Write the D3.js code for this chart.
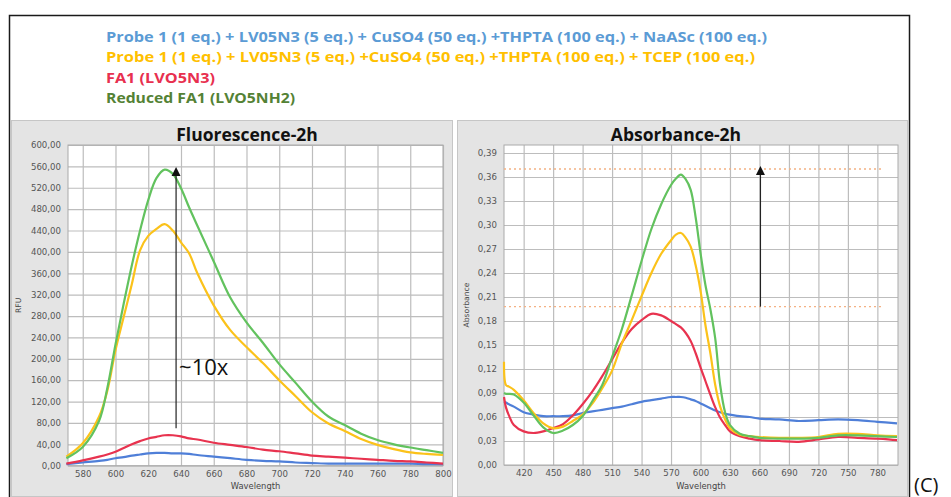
<!DOCTYPE html>
<html>
<head>
<meta charset="utf-8">
<script src="https://cdn.jsdelivr.net/npm/d3@7"></script>
<style>
  body { margin: 0; background: #fff; }
  svg { display: block; }
</style>
</head>
<body>
<svg id="chart" width="951" height="497"></svg>
<script>
// Fluorescence / absorbance spectra after 2h, four conditions

// ---- data ----
const legendLabels = [
	"Probe 1 (1 eq.) + LV05N3 (5 eq.) + CuSO4 (50 eq.) +THPTA (100 eq.) + NaASc (100 eq.)",
	"Probe 1 (1 eq.) + LV05N3 (5 eq.) +CuSO4 (50 eq.) +THPTA (100 eq.) +  TCEP (100 eq.)",
	"FA1 (LVO5N3)",
	"Reduced FA1 (LVO5NH2)"
];

const fluoWl = [570, 580, 590, 595, 600, 605, 610, 615, 620, 625, 630, 635, 640, 645, 650,
	660, 670, 680, 690, 700, 710, 720, 730, 740, 750, 760, 770, 780, 790, 800];
const fluoBlue = [3, 6, 9, 11, 14, 16, 19, 21, 23, 24, 24, 23, 23, 22, 20,
	17, 14, 11, 9, 8, 6, 5, 4, 4, 4, 4, 4, 4, 3, 3];
const fluoYellow = [17, 42, 92, 140, 216, 278, 340, 403, 430, 443, 452, 440, 418, 397, 360,
	300, 254, 222, 192, 160, 130, 100, 79, 65, 50, 39, 31, 25, 22, 20];
const fluoRed = [4, 10, 17, 21, 26, 33, 40, 46, 51, 54, 57, 57, 55, 51, 49,
	43, 39, 35, 30, 27, 23, 19, 17, 15, 13, 11, 9, 8, 6, 4];
const fluoGreen = [14, 35, 84, 145, 227, 303, 375, 440, 497, 538, 554, 546, 519, 483, 449,
	382, 315, 268, 230, 190, 155, 120, 92, 76, 60, 48, 40, 34, 29, 24];

const absWl = [400, 402, 405, 410, 420, 430, 440, 450, 460, 470, 480, 490, 500, 510, 520, 530,
	540, 550, 560, 570, 575, 580, 585, 590, 595, 600, 605, 610, 615, 620, 625, 630,
	640, 650, 660, 680, 700, 720, 740, 760, 780, 800];
const absBlue = [0.079, 0.078, 0.076, 0.073, 0.066, 0.063, 0.061, 0.061, 0.061, 0.062, 0.065, 0.067, 0.069, 0.071, 0.073, 0.076,
	0.079, 0.081, 0.083, 0.085, 0.085, 0.085, 0.084, 0.082, 0.080, 0.077, 0.074, 0.071, 0.068, 0.066, 0.064, 0.063,
	0.061, 0.060, 0.058, 0.057, 0.055, 0.056, 0.057, 0.056, 0.054, 0.052];
const absYellow = [0.129, 0.100, 0.098, 0.094, 0.081, 0.065, 0.052, 0.046, 0.048, 0.055, 0.063, 0.077, 0.096, 0.118, 0.152, 0.181,
	0.211, 0.240, 0.264, 0.281, 0.288, 0.290, 0.284, 0.273, 0.250, 0.218, 0.175, 0.140, 0.100, 0.073, 0.057, 0.046,
	0.038, 0.036, 0.035, 0.034, 0.034, 0.035, 0.039, 0.039, 0.037, 0.036];
const absRed = [0.085, 0.072, 0.062, 0.050, 0.042, 0.040, 0.042, 0.046, 0.051, 0.062, 0.076, 0.092, 0.111, 0.132, 0.153, 0.170,
	0.181, 0.189, 0.187, 0.180, 0.176, 0.172, 0.165, 0.155, 0.140, 0.122, 0.105, 0.088, 0.072, 0.059, 0.050, 0.042,
	0.036, 0.033, 0.031, 0.030, 0.029, 0.032, 0.035, 0.034, 0.033, 0.031];
const absGreen = [0.090, 0.089, 0.089, 0.088, 0.078, 0.062, 0.047, 0.040, 0.043, 0.050, 0.061, 0.080, 0.100, 0.135, 0.170, 0.212,
	0.255, 0.295, 0.326, 0.350, 0.358, 0.363, 0.357, 0.344, 0.310, 0.265, 0.225, 0.195, 0.158, 0.100, 0.066, 0.050,
	0.039, 0.036, 0.034, 0.033, 0.033, 0.034, 0.037, 0.037, 0.036, 0.035];

const fluoYTicks = d3.range(0, 601, 40);
const fluoXTicks = d3.range(580, 801, 20);
const absYTicks = d3.range(14).map(i => +(i * 0.03).toFixed(2));
const absXTicks = d3.range(420, 781, 30);

// dotted guide levels and the "increase" arrows (data units)
const absGuides = [0.37, 0.198];
const fluoArrow = { wl: 637, from: 70, to: 553 };
const absArrow = { wl: 661, from: 0.198, to: 0.37 };

// ---- styles ----
const legendColors = ["#5b9bd5", "#ffc000", "#e8304f", "#548235"];
const lineColors = ["#4f7fd8", "#fbc21a", "#e8334f", "#62c25e"];
const drawOrder = [0, 2, 1, 3];

const svg = d3.select("#chart");

// legend box
svg.append("rect")
	.attr("x", 9.5).attr("y", 15.5)
	.attr("width", 900).attr("height", 500)
	.attr("fill", "#fff")
	.attr("stroke", "#1a1a1a")
	.attr("stroke-width", 1.5);

const legendWidths = [661, 649, 109, 189];
svg.selectAll(".legend")
	.data(legendLabels)
	.enter().append("text")
	.attr("class", "legend")
	.attr("x", 106)
	.attr("y", (d, i) => 42 + i * 20.3)
	.attr("fill", (d, i) => legendColors[i])
	.attr("font-family", "Open Sans, sans-serif")
	.attr("font-weight", "bold")
	.attr("font-size", 15)
	.attr("textLength", (d, i) => legendWidths[i])
	.attr("lengthAdjust", "spacingAndGlyphs")
	.text(d => d);

// one panel = gray card + plot + grid + curves
function drawPanel(cfg) {
	const g = svg.append("g");

	g.append("rect")
		.attr("x", cfg.box[0] + 0.5).attr("y", cfg.box[1] + 0.5)
		.attr("width", cfg.box[2]).attr("height", cfg.box[3])
		.attr("fill", "#e4e4e4")
		.attr("stroke", "#c6c6c6");

	const x = d3.scaleLinear().domain(cfg.xDomain).range([cfg.plot[0], cfg.plot[1]]);
	const y = d3.scaleLinear().domain(cfg.yDomain).range([cfg.plot[3], cfg.plot[2]]);

	g.append("rect")
		.attr("x", cfg.plot[0]).attr("y", cfg.plot[2])
		.attr("width", cfg.plot[1] - cfg.plot[0])
		.attr("height", cfg.plot[3] - cfg.plot[2])
		.attr("fill", "#fff");

	// horizontal grid + y labels
	const yAxis = g.append("g")
		.attr("transform", "translate(" + cfg.plot[0] + ",0)")
		.call(d3.axisLeft(y)
			.tickValues(cfg.yTicks)
			.tickSize(-(cfg.plot[1] - cfg.plot[0]))
			.tickPadding(7)
			.tickFormat(d => d3.format(cfg.yFormat)(d).replace(".", ",")));

	// vertical grid + x labels
	const xAxis = g.append("g")
		.attr("transform", "translate(0," + cfg.plot[3] + ")")
		.call(d3.axisBottom(x)
			.tickValues(cfg.xTicks)
			.tickSize(-(cfg.plot[3] - cfg.plot[2]))
			.tickPadding(5));

	[yAxis, xAxis].forEach(a => {
		a.select(".domain").remove();
		a.selectAll(".tick line").attr("stroke", "#bdbdbd").attr("stroke-width", 1.2);
		a.selectAll(".tick text")
			.attr("fill", "#555")
			.attr("font-family", "DejaVu Sans, sans-serif")
			.attr("font-size", 8.6);
	});

	g.append("rect")
		.attr("x", cfg.plot[0]).attr("y", cfg.plot[2])
		.attr("width", cfg.plot[1] - cfg.plot[0])
		.attr("height", cfg.plot[3] - cfg.plot[2])
		.attr("fill", "none")
		.attr("stroke", "#aaa");

	// dotted guides
	(cfg.guides || []).forEach(v => {
		g.append("line")
			.attr("x1", x(cfg.xDomain[0])).attr("x2", x(cfg.guideEnd))
			.attr("y1", y(v)).attr("y2", y(v))
			.attr("stroke", "#f4b183")
			.attr("stroke-width", 1.3)
			.attr("stroke-dasharray", "2,3");
	});

	// curves
	const line = d3.line()
		.x(d => x(d[0]))
		.y(d => y(d[1]))
		.curve(d3.curveCatmullRom.alpha(0.5));

	drawOrder.forEach(i => {
		g.append("path")
			.datum(cfg.wl.map((w, k) => [w, cfg.series[i][k]]))
			.attr("fill", "none")
			.attr("stroke", lineColors[i])
			.attr("stroke-width", 2.2)
			.attr("stroke-linejoin", "round")
			.attr("d", line);
	});

	// arrow
	const ax = x(cfg.arrow.wl), yTop = y(cfg.arrow.to);
	g.append("line")
		.attr("x1", ax).attr("x2", ax)
		.attr("y1", y(cfg.arrow.from)).attr("y2", yTop + 4)
		.attr("stroke", "#222")
		.attr("stroke-width", 1.2);
	g.append("path")
		.attr("d", "M" + (ax - 4.5) + "," + (yTop + 6) + "L" + ax + "," + (yTop - 3) + "L" + (ax + 4.5) + "," + (yTop + 6) + "Z")
		.attr("fill", "#111");

	// titles
	g.append("text")
		.attr("x", cfg.titleX).attr("y", 141)
		.attr("text-anchor", "middle")
		.attr("font-family", "Open Sans, sans-serif")
		.attr("font-weight", "bold")
		.attr("font-size", 17.5)
		.attr("fill", "#111")
		.text(cfg.title);

	g.append("text")
		.attr("x", (cfg.plot[0] + cfg.plot[1]) / 2).attr("y", 489)
		.attr("text-anchor", "middle")
		.attr("font-family", "DejaVu Sans, sans-serif")
		.attr("font-size", 8.4)
		.attr("fill", "#444")
		.text("Wavelength");

	g.append("text")
		.attr("transform", "translate(" + cfg.yLabelX + "," + ((cfg.plot[2] + cfg.plot[3]) / 2) + ") rotate(-90)")
		.attr("text-anchor", "middle")
		.attr("font-family", "DejaVu Sans, sans-serif")
		.attr("font-size", 7.6)
		.attr("fill", "#444")
		.text(cfg.yLabel);

	return { x, y, g };
}

const fluo = drawPanel({
	box: [11, 120, 441, 376],
	plot: [68, 443, 145, 465.7],
	xDomain: [571, 800], yDomain: [0, 600],
	xTicks: fluoXTicks, yTicks: fluoYTicks, yFormat: ".2f",
	wl: fluoWl, series: [fluoBlue, fluoYellow, fluoRed, fluoGreen],
	arrow: fluoArrow,
	title: "Fluorescence-2h", titleX: 247,
	yLabel: "RFU", yLabelX: 21
});

drawPanel({
	box: [457, 120, 450, 376],
	plot: [504, 898, 145, 465],
	xDomain: [400, 801], yDomain: [0, 0.40],
	xTicks: absXTicks, yTicks: absYTicks, yFormat: ".2f",
	wl: absWl, series: [absBlue, absYellow, absRed, absGreen],
	guides: absGuides, guideEnd: 785,
	arrow: absArrow,
	title: "Absorbance-2h", titleX: 676,
	yLabel: "Absorbance", yLabelX: 469
});

// annotation on the fluorescence arrow
fluo.g.append("text")
	.attr("x", fluo.x(fluoArrow.wl) + 3).attr("y", 375)
	.attr("font-family", "Open Sans, sans-serif")
	.attr("font-size", 22)
	.attr("fill", "#111")
	.text("~10x");

svg.append("text")
	.attr("x", 914).attr("y", 492)
	.attr("font-family", "Open Sans, sans-serif")
	.attr("font-size", 20)
	.attr("fill", "#111")
	.text("(C)");
</script>
</body>
</html>
